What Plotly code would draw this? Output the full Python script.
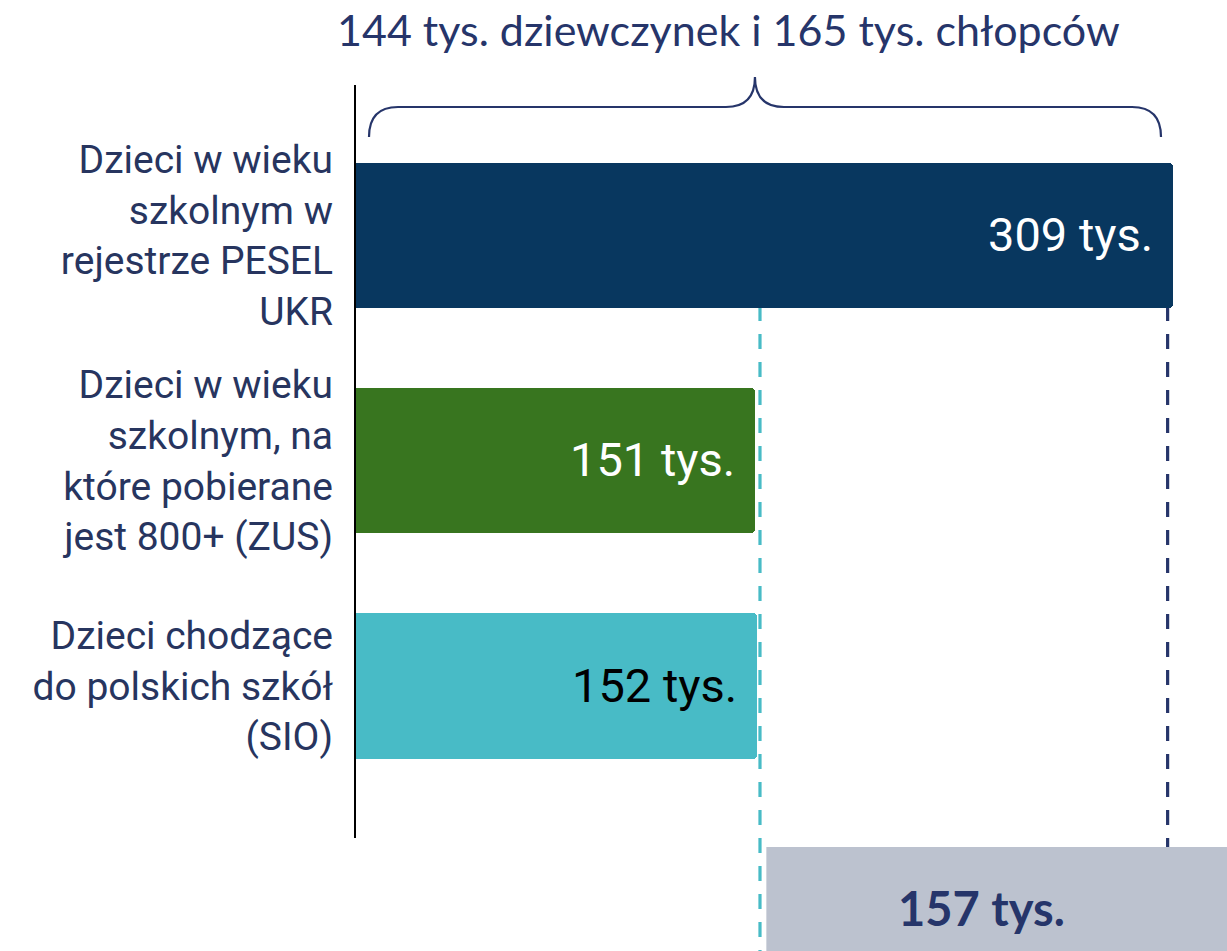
import plotly.graph_objects as go

# ---- data ----
categories = [
    "Dzieci w wieku<br>szkolnym w<br>rejestrze PESEL<br>UKR",
    "Dzieci w wieku<br>szkolnym, na<br>które pobierane<br>jest 800+ (ZUS)",
    "Dzieci chodzące<br>do polskich szkół<br>(SIO)",
]
values = [309, 151, 152]          # thousands
value_labels = ["309 tys.", "151 tys.", "152 tys."]
bar_colors = ["#08375f", "#38751f", "#48bbc6"]
label_text_colors = ["#ffffff", "#ffffff", "#000000"]
girls, boys = 144, 165
gap_value = values[0] - values[2]  # 157
title_text = f"{girls} tys. dziewczynek i {boys} tys. chłopców"
gap_label = f"{gap_value} tys."

NAVY = "#26356a"
GRAY = "#bcc2cf"

# ---- geometry helpers (styling only) ----
W, H = 1227, 951
ML = 350
k = 2.647                      # px per unit
x_min = -(355 - ML) / k
x_max = x_min + (W - ML) / k
y0px, dy = 235.5, 225.25       # centre of first row, row spacing in px
def ypx(p):
    return (p - y0px) / dy
y_top, y_bot = ypx(0), ypx(H)

ypos = list(range(len(categories)))

fig = go.Figure()
fig.add_trace(go.Bar(
    x=values, y=ypos, orientation="h",
    marker=dict(color=bar_colors, line=dict(width=0), cornerradius=4),
    width=0.644, hoverinfo="skip", showlegend=False,
))

shapes = []
# y axis line
shapes.append(dict(type="line", xref="x", yref="y", x0=0, x1=0,
                   y0=ypx(85), y1=ypx(838), line=dict(color="black", width=2)))
# navy dashed line at PESEL value
shapes.append(dict(type="line", xref="x", yref="y", x0=values[0] - 2, x1=values[0] - 2,
                   y0=ypx(306), y1=ypx(847), line=dict(color=NAVY, width=3.2, dash="15px,13px"),
                   layer="below"))
# teal dashed line at SIO value
shapes.append(dict(type="line", xref="x", yref="y", x0=values[2] + 1, x1=values[2] + 1,
                   y0=ypx(306), y1=ypx(960), line=dict(color=bar_colors[2], width=3.2, dash="15px,13px"),
                   layer="below"))
# gray difference box
shapes.append(dict(type="rect", xref="x", yref="y", x0=values[2] + 3.4, x1=x_max + 20,
                   y0=ypx(847), y1=ypx(H + 20), fillcolor=GRAY, line=dict(width=0), layer="above"))

# brace over the PESEL bar
bl = (369 - 355) / k
br = values[0] - 4.5
pk = (bl + br) / 2 - 3.8
rx = 29 / k
yb, ye, yp = ypx(107), ypx(137), ypx(77)
path = (f"M {bl},{ye} Q {bl},{yb} {bl+rx},{yb} L {pk-rx},{yb} Q {pk},{yb} {pk},{yp} "
        f"Q {pk},{yb} {pk+rx},{yb} L {br-rx},{yb} Q {br},{yb} {br},{ye}")
shapes.append(dict(type="path", xref="x", yref="y", path=path,
                   line=dict(color=NAVY, width=2.2)))

annotations = []
for i, (v, t, c) in enumerate(zip(values, value_labels, label_text_colors)):
    annotations.append(dict(x=v, y=i, xref="x", yref="y", text=t, showarrow=False,
                            xanchor="right", yanchor="middle", xshift=-18, yshift=1,
                            font=dict(family="Roboto", size=47, color=c)))
annotations.append(dict(x=(values[0] + values[2]) / 2 + 6, y=ypx(908), xref="x", yref="y",
                        text=f"<b>{gap_label}</b>", showarrow=False,
                        xanchor="center", yanchor="middle",
                        font=dict(family="Lato", size=47, color=NAVY)))
annotations.append(dict(x=(values[0]) / 2 - 13.5, y=ypx(29), xref="x", yref="y",
                        text=title_text, showarrow=False,
                        xanchor="center", yanchor="middle",
                        font=dict(family="Lato", size=43, color=NAVY)))

fig.update_layout(
    width=W, height=H,
    margin=dict(l=ML, r=0, t=0, b=0),
    paper_bgcolor="white", plot_bgcolor="white",
    bargap=0,
    shapes=shapes, annotations=annotations,
    xaxis=dict(range=[x_min, x_max], visible=False, showgrid=False, zeroline=False),
    yaxis=dict(range=[y_bot, y_top], tickvals=ypos, ticktext=categories,
               showgrid=False, zeroline=False, showline=False, ticks="",
               ticklabelstandoff=16,
               tickfont=dict(family="Roboto", size=39, color="#27355f")),
)

fig.write_html("out.html", config={"displayModeBar": False},
               post_script="document.body.style.margin='0px';")
